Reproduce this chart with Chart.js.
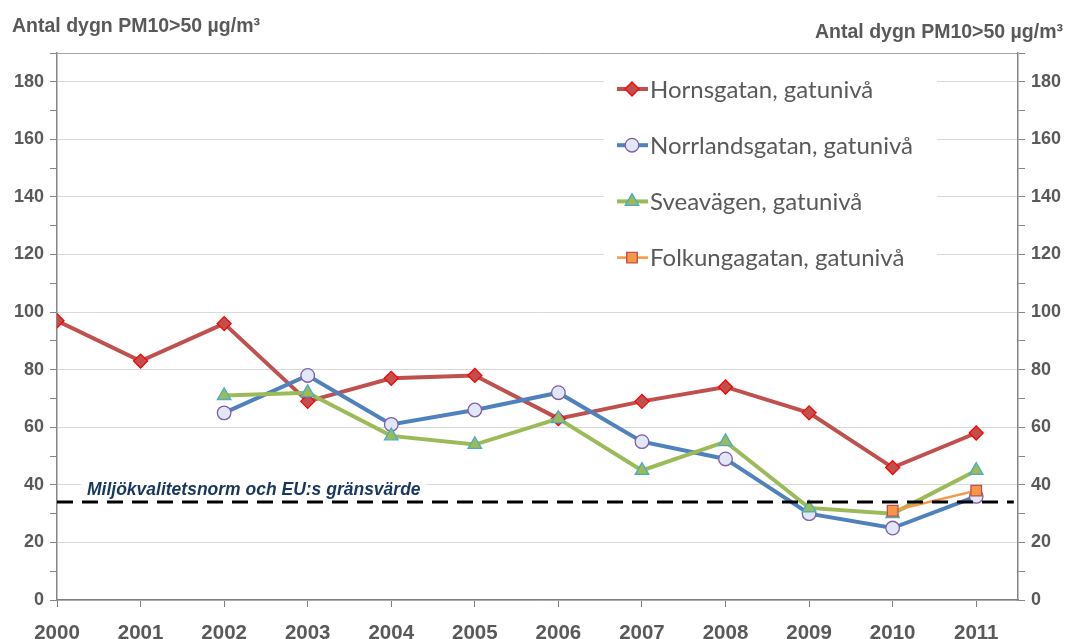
<!DOCTYPE html>
<html>
<head>
<meta charset="utf-8">
<script src="https://cdn.jsdelivr.net/npm/chart.js@4.4.0/dist/chart.umd.min.js"></script>
<style>
  html, body { margin: 0; padding: 0; background: #fff; }
  #wrap { width: 1069px; height: 639px; position: relative; }
</style>
</head>
<body>
<div id="wrap"><canvas id="pmChart"></canvas></div>
<script>
// Data
const years = [2000, 2001, 2002, 2003, 2004, 2005, 2006, 2007, 2008, 2009, 2010, 2011];
const hornsgatan = [97, 83, 96, 69, 77, 78, 63, 69, 74, 65, 46, 58];
const norrlandsgatan = [null, null, 65, 78, 61, 66, 72, 55, 49, 30, 25, 36];
const sveavagen = [null, null, 71, 72, 57, 54, 63, 45, 55, 32, 30, 45];
const folkungagatan = [null, null, null, null, null, null, null, null, null, null, 31, 38];
const seriesNames = ['Hornsgatan, gatunivå', 'Norrlandsgatan, gatunivå', 'Sveavägen, gatunivå', 'Folkungagatan, gatunivå'];
const limitValue = 34;
const limitLabel = 'Miljökvalitetsnorm och EU:s gränsvärde';
const axisTitle = 'Antal dygn PM10>50 µg/m³';
const yMax = 190;

const labelColor = '#595959';
const axisColor = '#868686';

function toPoints(values) {
    return years.map((yr, i) => ({ x: yr, y: values[i] }));
}

function lineSet(name, values, color, lineWidth, style, radius, fill, border, order) {
    return {
        label: name,
        data: toPoints(values),
        borderColor: color,
        backgroundColor: color,
        borderWidth: lineWidth,
        pointStyle: style,
        pointRadius: radius,
        pointBackgroundColor: fill,
        pointBorderColor: border,
        pointBorderWidth: 1.3,
        tension: 0,
        spanGaps: false,
        order: order
    };
}

const datasets = [
    lineSet(seriesNames[0], hornsgatan, '#C0504D', 4, 'rectRot', 7, '#C0504D', '#FF0000', 5),
    lineSet(seriesNames[1], norrlandsgatan, '#4F81BD', 4, 'circle', 6.8, '#E1E7F4', '#7F5FA8', 4),
    lineSet(seriesNames[2], sveavagen, '#9BBB59', 4, 'triangle', 7.8, '#9BBB59', '#4BACC6', 3),
    lineSet(seriesNames[3], folkungagatan, '#F79646', 2.5, 'rect', 7.5, '#F79646', '#C0504D', 2),
    {
        label: 'limit',
        data: [{ x: 2000, y: limitValue }, { x: 2011.45, y: limitValue }],
        borderColor: '#000000',
        borderWidth: 3,
        borderDash: [16, 9],
        pointRadius: 0,
        order: 1
    }
];

// Titles, limit text and legend
const extrasPlugin = {
    id: 'extras',
    afterDraw(chart) {
        const ctx = chart.ctx;
        const yScale = chart.scales.y;
        const area = chart.chartArea;
        ctx.save();

        // axis titles
        ctx.fillStyle = labelColor;
        ctx.font = 'bold 19.5px "Liberation Sans"';
        ctx.textBaseline = 'alphabetic';
        ctx.textAlign = 'left';
        ctx.fillText(axisTitle, 12, 32);
        ctx.textAlign = 'right';
        ctx.fillText(axisTitle, 1063, 38);

        // limit label
        ctx.font = 'italic bold 17.5px "Liberation Sans"';
        ctx.textAlign = 'left';
        const lx = area.left + 30;
        const ly = yScale.getPixelForValue(limitValue) - 7;
        const w = ctx.measureText(limitLabel).width;
        ctx.fillStyle = '#ffffff';
        ctx.fillRect(lx - 6, ly - 15, w + 12, 19);
        ctx.fillStyle = '#17375E';
        ctx.fillText(limitLabel, lx, ly);

        // legend
        ctx.fillStyle = '#ffffff';
        ctx.fillRect(604, 62, 333, 222);
        ctx.font = '24px Lato';
        ctx.textBaseline = 'middle';
        chart.data.datasets.slice(0, 4).forEach((ds, i) => {
            const y = 89 + i * 56.2;
            ctx.strokeStyle = ds.borderColor;
            ctx.lineWidth = ds.borderWidth;
            ctx.setLineDash([]);
            ctx.beginPath();
            ctx.moveTo(617, y);
            ctx.lineTo(648, y);
            ctx.stroke();
            if (Chart.helpers && Chart.helpers.drawPoint) {
                ctx.fillStyle = ds.pointBackgroundColor;
                ctx.strokeStyle = ds.pointBorderColor;
                ctx.lineWidth = ds.pointBorderWidth;
                Chart.helpers.drawPoint(ctx, {
                    pointStyle: ds.pointStyle,
                    radius: ds.pointRadius,
                    rotation: 0,
                    borderWidth: ds.pointBorderWidth
                }, 632, y);
            }
            ctx.fillStyle = labelColor;
            ctx.fillText(ds.label, 650, y + 1);
        });
        ctx.restore();
    }
};

const tickFont = { family: '"Liberation Sans"', size: 18, weight: 'bold' };

function yGridColor(c) {
    const v = c.tick.value;
    if (v === yMax) return '#A6A6A6';
    return v % 20 === 0 ? '#D9D9D9' : 'rgba(0,0,0,0)';
}

const ctx = document.getElementById('pmChart').getContext('2d');
const pmChart = new Chart(ctx, {
    type: 'line',
    data: { datasets: datasets },
    options: {
        responsive: true,
        maintainAspectRatio: false,
        animation: false,
        layout: { padding: { top: 53, left: 0, right: 0, bottom: 0 } },
        plugins: {
            legend: { display: false },
            tooltip: { enabled: false }
        },
        scales: {
            x: {
                type: 'linear',
                min: 2000,
                max: 2011.5,
                afterFit: (s) => { s.height = 39; },
                border: { color: '#7F7F7F', width: 1.5 },
                grid: { drawOnChartArea: false, tickLength: 7, tickColor: '#7F7F7F' },
                ticks: {
                    stepSize: 1,
                    includeBounds: false,
                    autoSkip: false,
                    maxRotation: 0,
                    padding: 14,
                    color: labelColor,
                    font: { family: '"Liberation Sans"', size: 20.5, weight: 'bold' },
                    callback: (v) => String(v)
                }
            },
            y: {
                position: 'left',
                min: 0,
                max: yMax,
                afterFit: (s) => { s.width = 57; },
                border: { color: axisColor, width: 1.5 },
                grid: { color: yGridColor, tickColor: axisColor, tickLength: 7 },
                ticks: {
                    stepSize: 10,
                    padding: 6,
                    color: labelColor,
                    font: tickFont,
                    callback: (v) => (v % 20 === 0 && v !== yMax ? v : '')
                }
            },
            y2: {
                position: 'right',
                min: 0,
                max: yMax,
                afterFit: (s) => { s.width = 51; },
                border: { color: axisColor, width: 1.5 },
                grid: { drawOnChartArea: false, tickColor: axisColor, tickLength: 7 },
                ticks: {
                    stepSize: 10,
                    padding: 6,
                    color: labelColor,
                    font: tickFont,
                    callback: (v) => (v % 20 === 0 && v !== yMax ? v : '')
                }
            }
        }
    },
    plugins: [extrasPlugin]
});
</script>
</body>
</html>
